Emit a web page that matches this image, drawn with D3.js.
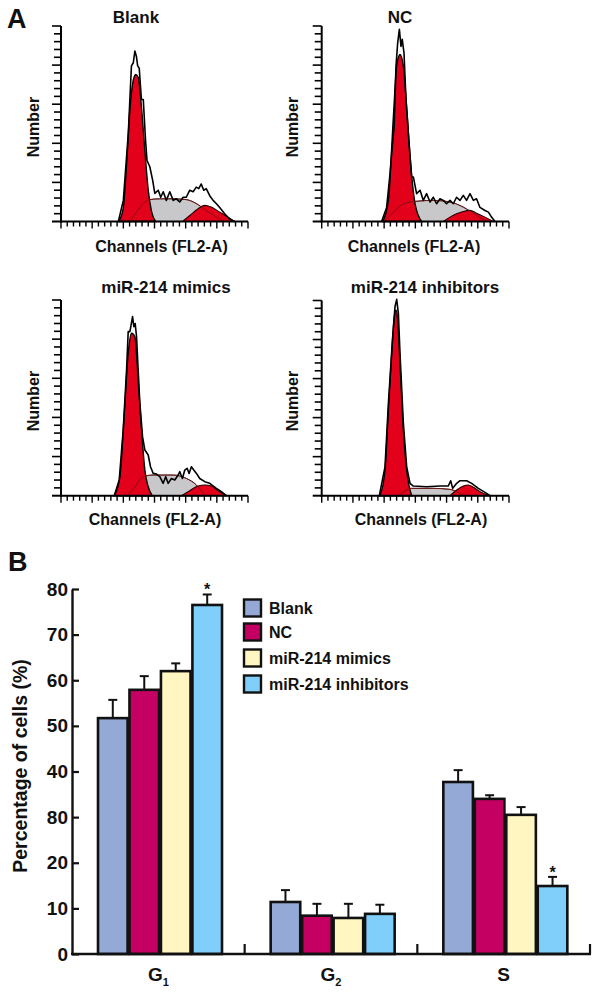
<!DOCTYPE html>
<html><head><meta charset="utf-8">
<script src="https://cdn.jsdelivr.net/npm/d3@7"></script>
<style>body{margin:0;background:#fff}svg{display:block}text{font-family:"Liberation Sans",Arial,sans-serif;font-weight:bold;fill:#111}</style>
</head><body><svg id="c" width="602" height="994"></svg>
<script>
// ---------- Panel A data (channel, count) ----------
const blankG1 = [[93,0],[100,18],[105,70],[110.5,143],[116,181],[120,188],[124,184],[129,147],[134.5,91],[140,40],[145,14],[152,0]];
const blankS = [[110.5,0],[121,12],[132,23],[142.5,28],[158.5,29],[180,29],[201,28],[217,23],[233,14],[249,6],[261,0]];
const blankG2 = [[195,0],[206.6,7.7],[220,16.3],[230.6,20.6],[241,18.4],[254.6,12],[268,5.6],[278.6,0]];
const blankRaw = [[92,0],[100,27],[108,113],[113,199],[116,203],[118.5,218],[121,211],[123,199],[125.5,196],[129,156],[132,156],[135.6,104],[138,78],[142.5,70],[147,53],[150.5,36],[156,40],[160,31],[164,38],[169,27],[174.5,38],[180,27],[185,29],[190.5,25],[196,31],[201,31],[206.6,40],[212,38],[217,44],[221,42],[225,48],[229,40],[233,42],[238.6,33],[244,27],[249,23],[254.6,18],[262.6,10],[270.6,3],[278.6,0]];

const ncG1 = [[97.7,0],[106.8,27],[114.8,134],[120,198.5],[125.4,213.5],[130.8,198.5],[136,147],[141.5,83],[149.5,23],[160,0]];
const ncS = [[98.8,0],[114.8,12],[130.8,22.7],[149.5,25.7],[178.8,27],[205.5,24.9],[226.8,18.4],[248,7.7],[264,0]];
const ncG2 = [[194.8,0],[205.5,5.6],[216,9.9],[226.8,12.9],[237.5,14.2],[248,10.7],[261.5,5.6],[275,0]];
const ncRaw = [[96,0],[104,18],[109.4,61],[112,87],[116,121],[119,198.5],[121.7,228.5],[124.4,245.7],[127,224],[129,233],[131.8,215.7],[135,155.7],[138.8,112.8],[144,57],[146.8,57],[152,35.6],[157.5,40],[162.8,27],[168,35.6],[173.5,25],[178.8,31],[184,22.7],[189.5,29],[194.8,27],[200,22.7],[205.5,27],[210.8,22.7],[216,31],[221.5,27],[226.8,33.4],[232,27],[237.5,35.6],[243,27],[248,29],[253.5,18],[261.5,14],[267,12],[272,5.6],[277.6,0]];

const mimG1 = [[85.4,0],[94.5,24],[100.9,96.7],[107.8,182],[113.2,207.5],[118.5,203],[123.8,148],[129.2,84],[134.5,33],[139.9,11.5],[146.3,0]];
const mimS = [[106.8,0],[118.5,11.5],[131.8,24.3],[147.9,26.4],[180,26.4],[201.2,22],[217.3,13.6],[230.6,0]];
const mimG2 = [[193.2,0],[206.6,6.4],[219.9,12.4],[230.6,13.6],[241.3,12.4],[252,6.4],[265.3,0]];
const mimRaw = [[85.4,0],[93.4,20],[99.8,84],[105.2,160.6],[107.8,209.6],[110.5,209.6],[112,216],[114.8,228.8],[116.9,216],[119,220],[121.2,203],[123.8,160.6],[126.5,118],[130.8,75.4],[134.5,58.4],[139.9,52],[143.6,37],[147.9,28.5],[153.2,27.7],[158.5,24.3],[163.9,15.8],[168,24.3],[171.9,15.8],[177.2,22],[182.6,20],[187.9,26.4],[190.6,30.7],[194.8,22],[198.6,32.8],[202.3,35],[205.5,28.5],[209.2,37],[213,32.8],[217.3,28.5],[222.6,22],[230.6,17.9],[238.6,15.8],[249.3,9.4],[257.3,5.1],[265.3,0]];

const inhG1 = [[93.4,0],[101.4,32.9],[106.8,109.7],[112.1,182.3],[116.4,229.3],[119,237.8],[121.7,225],[125.4,169.5],[130.8,84],[136.1,32.9],[144.1,0]];
const inhS = [[122.8,0],[133.5,6.4],[144.1,9.4],[178.8,9.4],[205.5,8.1],[216.2,5.1],[226.8,0]];
const inhG2 = [[205.5,0],[216.2,7.3],[226.8,12.4],[234.9,13.7],[242.9,10.7],[253.6,5.1],[269.6,0]];
const inhRaw = [[92.3,0],[101.4,37],[106.8,118],[113.7,203.7],[117.4,242],[120.1,251.5],[122.8,233.6],[125.4,182.3],[130.8,92.7],[136.1,37],[141.5,15.8],[146.8,12.4],[168,11.5],[189.5,12.4],[202.8,12.4],[206.6,19.2],[209.8,9.4],[216.2,15.8],[221.5,19.2],[232.2,19.2],[240.2,15.8],[250.9,9.4],[261.6,4.3],[269.6,0]];

// ---------- Panel B data ----------
const phases = ["G1","G2","S"];
const groups = ["Blank","NC","miR-214 mimics","miR-214 inhibitors"];
const blankMean = [51.7, 11.4, 37.7];
const blankErr  = [4.0, 2.6, 2.6];
const ncMean    = [57.9, 8.4, 34.0];
const ncErr     = [3.0, 2.6, 0.8];
const mimMean   = [62.0, 7.9, 30.5];
const mimErr    = [1.7, 3.1, 1.7];
const inhMean   = [76.5, 8.8, 14.9];
const inhErr    = [2.3, 2.0, 2.0];
const starFlags = [[0,0,0],[0,0,0],[0,0,0],[1,0,1]];
const yTickValues = [0,10,20,30,40,50,60,70,80];
const yTickLabels = ["0","10","20","80","40","50","60","70","80"];
const colors = ["#94A9D6","#C50063","#FFF6C2","#80CFFB"];

const svg = d3.select("#c");
const RED = "#E2001A";

// ---------- Panel A ----------
const panels = [
  {title:"Blank", g1:blankG1, s:blankS, g2:blankG2, raw:blankRaw, x0:61, x1:248, yb:221.5, yt:26, tX:136, tY:23, cX:161.5, cY:252, nX:39, nY:127},
  {title:"NC", g1:ncG1, s:ncS, g2:ncG2, raw:ncRaw, x0:321.7, x1:509, yb:221.5, yt:26, tX:400, tY:23, cX:414, cY:252, nX:298, nY:127},
  {title:"miR-214 mimics", g1:mimG1, s:mimS, g2:mimG2, raw:mimRaw, x0:61, x1:248, yb:495.7, yt:300, tX:166, tY:293, cX:155, cY:525, nX:39, nY:401},
  {title:"miR-214 inhibitors", g1:inhG1, s:inhS, g2:inhG2, raw:inhRaw, x0:321.7, x1:509, yb:495.7, yt:300.5, tX:425, tY:293, cX:421, cY:525, nX:298, nY:401}
];

panels.forEach(p => {
  const g = svg.append("g");
  const x = d3.scaleLinear().domain([0,300]).range([p.x0, p.x1]);
  const y = d3.scaleLinear().domain([0,250]).range([p.yb, p.yt]);
  const area = d3.area().x(d=>x(d[0])).y0(y(0)).y1(d=>y(d[1])).curve(d3.curveMonotoneX);
  const line = d3.line().x(d=>x(d[0])).y(d=>y(d[1])).curve(d3.curveMonotoneX);
  const rawLine = d3.line().x(d=>x(d[0])).y(d=>y(d[1]));
  g.append("path").attr("d", area(p.s)).attr("fill","#C8C8CA").attr("stroke","#222").attr("stroke-width",0.9);
  g.append("path").attr("d", area(p.g2)).attr("fill",RED).attr("stroke","#200").attr("stroke-width",1.1);
  g.append("path").attr("d", area(p.g1)).attr("fill",RED).attr("stroke","#000").attr("stroke-width",1.4);
  g.append("path").attr("d", line(p.s)).attr("fill","none").attr("stroke","#7A1212").attr("stroke-width",0.9);
  g.append("path").attr("d", rawLine(p.raw)).attr("fill","none").attr("stroke","#000").attr("stroke-width",1.6).attr("stroke-linejoin","round");
  // axes
  g.append("line").attr("x1",x(0)).attr("x2",x(0)).attr("y1",y(0)+1).attr("y2",y(250)).attr("stroke","#000").attr("stroke-width",2);
  g.append("line").attr("x1",x(0)-1).attr("x2",x(300)).attr("y1",y(0)).attr("y2",y(0)).attr("stroke","#000").attr("stroke-width",2);
  const yt = d3.range(10,251,10);
  g.selectAll(".yt").data(yt).join("line")
    .attr("x1",d=> x(0) - (d%50===0?9:7)).attr("x2",x(0)).attr("y1",d=>y(d)).attr("y2",d=>y(d))
    .attr("stroke","#000").attr("stroke-width",1.6);
  g.append("line").attr("x1",x(0)-9).attr("x2",x(0)).attr("y1",y(0)).attr("y2",y(0)).attr("stroke","#000").attr("stroke-width",2);
  const xt = d3.range(0,301,10);
  g.selectAll(".xt").data(xt).join("line")
    .attr("x1",d=>x(d)).attr("x2",d=>x(d)).attr("y1",y(0)).attr("y2",d=> y(0) + (d%50===0?7:5))
    .attr("stroke","#000").attr("stroke-width",1.4);
  g.append("text").attr("x",p.tX).attr("y",p.tY).attr("text-anchor","middle").attr("font-size",17).text(p.title);
  g.append("text").attr("x",p.cX).attr("y",p.cY).attr("text-anchor","middle").attr("font-size",16).text("Channels (FL2-A)");
  g.append("text").attr("transform",`translate(${p.nX},${p.nY}) rotate(-90)`).attr("text-anchor","middle").attr("font-size",16).text("Number");
});

svg.append("text").attr("x",7).attr("y",28).attr("font-size",27).text("A");
svg.append("text").attr("x",8).attr("y",571).attr("font-size",27).text("B");

// ---------- Panel B ----------
const means = [blankMean, ncMean, mimMean, inhMean];
const errs = [blankErr, ncErr, mimErr, inhErr];
const bars = [];
groups.forEach((gname, gi) => phases.forEach((ph, pi) => bars.push({g:gname, gi, ph, pi, v:means[gi][pi], e:errs[gi][pi], star:starFlags[gi][pi]})));

const yB = d3.scaleLinear().domain([0,80]).range([954, 589]);
const x0 = d3.scaleBand().domain(phases).range([72, 590]);
const x1 = d3.scaleBand().domain(groups).range([26, 150]).paddingInner(0.06);
const gB = svg.append("g");

gB.selectAll(".eb").data(bars).join("line")
  .attr("x1",d=>x0(d.ph)+x1(d.g)+x1.bandwidth()/2).attr("x2",d=>x0(d.ph)+x1(d.g)+x1.bandwidth()/2)
  .attr("y1",d=>yB(d.v)).attr("y2",d=>yB(d.v+d.e)).attr("stroke","#111").attr("stroke-width",2);
gB.selectAll(".ec").data(bars).join("line")
  .attr("x1",d=>x0(d.ph)+x1(d.g)+x1.bandwidth()/2-4.5).attr("x2",d=>x0(d.ph)+x1(d.g)+x1.bandwidth()/2+4.5)
  .attr("y1",d=>yB(d.v+d.e)).attr("y2",d=>yB(d.v+d.e)).attr("stroke","#111").attr("stroke-width",2);
gB.selectAll(".bar").data(bars).join("rect")
  .attr("x",d=>x0(d.ph)+x1(d.g)).attr("width",x1.bandwidth())
  .attr("y",d=>yB(d.v)).attr("height",d=>yB(0)-yB(d.v))
  .attr("fill",d=>colors[d.gi]).attr("stroke","#111").attr("stroke-width",2.6);
gB.selectAll(".star").data(bars.filter(d=>d.star)).join("text")
  .attr("x",d=>x0(d.ph)+x1(d.g)+x1.bandwidth()/2).attr("y",d=>yB(d.v+d.e)+1)
  .attr("text-anchor","middle").attr("font-size",16).text("*");

const yAxis = d3.axisLeft(yB).tickValues(yTickValues).tickFormat((d,i)=>yTickLabels[i]).tickSizeInner(-7).tickSizeOuter(0).tickPadding(4);
const ya = gB.append("g").attr("transform","translate(72,0)").call(yAxis);
ya.select(".domain").attr("stroke","#111").attr("stroke-width",2.4);
ya.selectAll(".tick line").attr("stroke","#111").attr("stroke-width",2.2);
ya.selectAll(".tick text").attr("font-size",19).attr("font-family",'"Liberation Sans",Arial,sans-serif').attr("font-weight","bold").attr("fill","#111");

gB.append("line").attr("x1",71).attr("x2",591).attr("y1",yB(0)).attr("y2",yB(0)).attr("stroke","#111").attr("stroke-width",2.6);
gB.selectAll(".xtick").data(phases).join("line")
  .attr("x1",d=>x0(d)+x0.bandwidth()).attr("x2",d=>x0(d)+x0.bandwidth())
  .attr("y1",yB(0)).attr("y2",yB(0)-10).attr("stroke","#111").attr("stroke-width",2.2);
const lab = gB.selectAll(".xl").data(phases).join("text")
  .attr("x",d=>x0(d)+x0.bandwidth()/2).attr("y",981).attr("text-anchor","middle").attr("font-size",19);
lab.append("tspan").text(d=>d[0]);
lab.append("tspan").attr("font-size",11).attr("dy",5).text(d=>d.slice(1));

svg.append("text").attr("transform","translate(27,766) rotate(-90)").attr("text-anchor","middle").attr("font-size",19.5).text("Percentage of cells (%)");

const lg = svg.append("g");
const legY = [608, 632, 658, 684];
groups.forEach((gname, i) => {
  lg.append("rect").attr("x",244).attr("y",legY[i]-8.5).attr("width",17).attr("height",17)
    .attr("fill",colors[i]).attr("stroke","#111").attr("stroke-width",2.4);
  lg.append("text").attr("x",269).attr("y",legY[i]+5.5).attr("font-size",16).text(gname);
});
</script></body></html>
